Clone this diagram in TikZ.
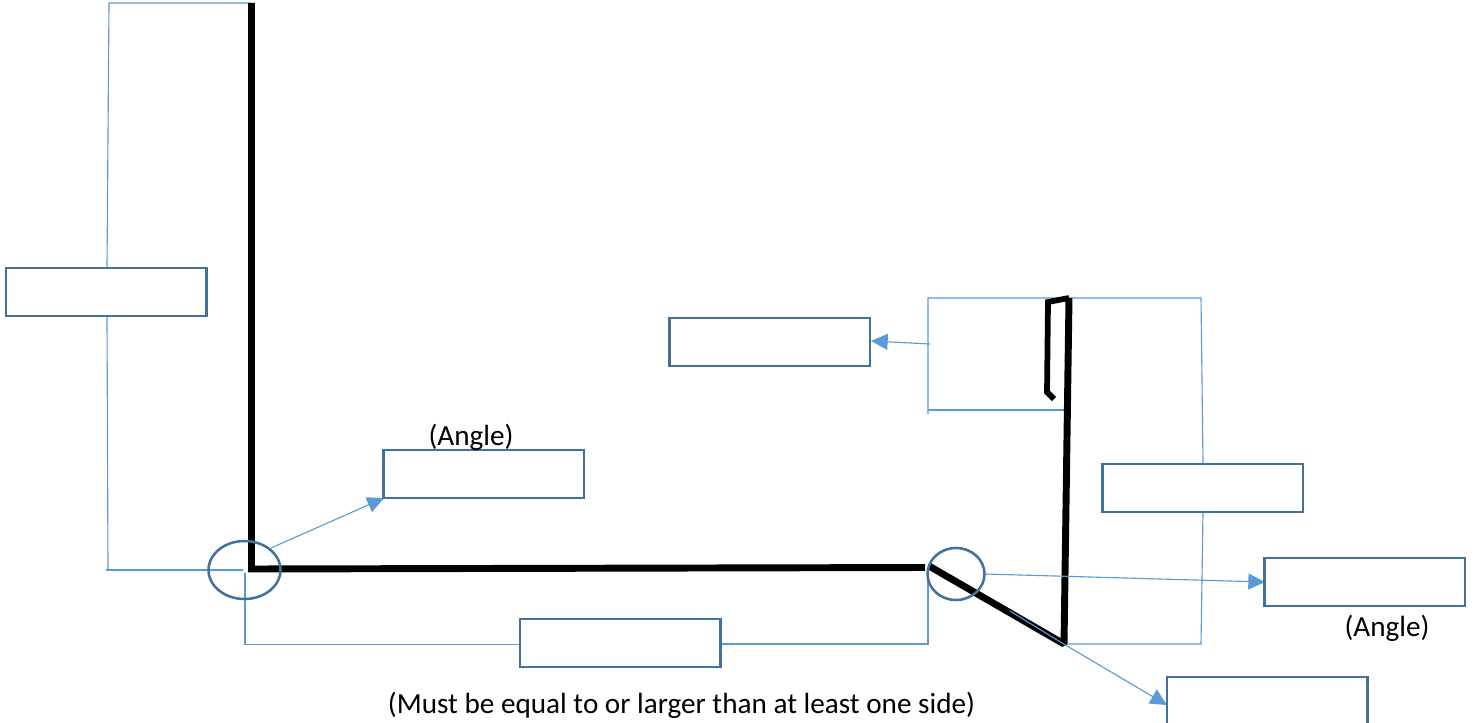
\documentclass[tikz,border=0pt]{standalone}
\usepackage{fontspec}
\setmainfont{Carlito}
\usetikzlibrary{arrows.meta}
\definecolor{boxblue}{HTML}{41719C}
\definecolor{thinblue}{HTML}{5B9BD5}
\tikzset{
  px/.style={x=0.75pt,y=-0.75pt},
  emptybox/.style={draw=boxblue,line width=1.9pt,fill=white,minimum width=150.5pt,minimum height=36pt,inner sep=0pt,outer sep=0pt,anchor=north west},
  thin line/.style={draw=thinblue,line width=0.85pt},
  pointer/.style={draw=thinblue,line width=0.85pt,-{Triangle[length=12.5pt,width=12pt,fill=thinblue]}},
  profile/.style={draw=black,line width=5.2pt,line join=miter},
  hook/.style={draw=black,line width=4.3pt,line join=miter},
  label/.style={font=\fontsize{21.9pt}{26pt}\selectfont,text=black,inner sep=0pt}
}
\begin{document}
\begin{tikzpicture}[px]
\useasboundingbox (0,0) rectangle (1476,723);
\fill[white] (0,0) rectangle (1476,723);

% free ends of the connectors
\coordinate (lt1) at (250,3);
\coordinate (lt2) at (109,3);
\coordinate (lv1) at (107,268);
\coordinate (lv2) at (107,316);
\coordinate (lb0) at (108,570);
\coordinate (lb1) at (106,570);
\coordinate (lb2) at (243,570);
\coordinate (bl1) at (245,573);
\coordinate (bl2) at (245,644.5);
\coordinate (bl3) at (520,644.5);
\coordinate (br1) at (721,644);
\coordinate (br2) at (928,644);
\coordinate (br3) at (928,568);
\coordinate (rt1) at (928,298);
\coordinate (rt2) at (1201,298);
\coordinate (rt3) at (1203,464);
\coordinate (rb1) at (1203,512);
\coordinate (rb2) at (1201,644);
\coordinate (rb3) at (1064,644);
\coordinate (rl1) at (928,414);
\coordinate (rl2) at (928,410);
\coordinate (rl3) at (1064,410);
\coordinate (a1s) at (930,344);
\coordinate (a1e) at (871,341);
\coordinate (a2s) at (271,548);
\coordinate (a2e) at (384,498);
\coordinate (a3s) at (985,574);
\coordinate (a3e) at (1265,582);
\coordinate (a4s) at (1010,611);
\coordinate (a4m) at (1062,643);
\coordinate (a4e) at (1167,705);
\coordinate (p1) at (251.5,3);
\coordinate (p2) at (251.5,569);
\coordinate (p3) at (925,567.5);
\coordinate (q1) at (929,566);
\coordinate (q2) at (1064,644);
\coordinate (q3) at (1069,298);
\coordinate (q4) at (1048,302);
\coordinate (q5) at (1047,392);
\coordinate (q6) at (1054,399);

% thin dimension lines
\draw[thin line] (lt1) -- (lt2) -- (lv1);
\draw[thin line] (lv2) -- (lb0);
\draw[thin line] (lb1) -- (lb2);
\draw[thin line] (bl1) -- (bl2) -- (bl3);
\draw[thin line] (br1) -- (br2) -- (br3);
\draw[thin line] (rl1) -- (rt1) -- (rt2) -- (rt3);
\draw[thin line] (rb1) -- (rb2) -- (rb3);
\draw[thin line] (rl2) -- (rl3);

% heavy profile
\draw[profile] (p1) -- (p2) -- (p3);
\draw[profile,line join=bevel] (q1) -- (q2) -- (q3);
\draw[hook] (q3) -- (q4) -- (q5) -- (q6);

% circled corners
\draw[boxblue,line width=1.9pt] (244.5,570) ellipse [x radius=36,y radius=29];
\draw[boxblue,line width=1.9pt] (956,574) ellipse [x radius=28.5,y radius=26];

% pointers
\draw[pointer] (a1s) -- (a1e);
\draw[pointer] (a2s) -- (a2e);
\draw[pointer] (a3s) -- (a3e);
\draw[thin line] (a4s) -- (a4m);
\draw[pointer] (a4m) -- (a4e);

% empty answer boxes
\node[emptybox] (b1) at (6,268) {};
\node[emptybox] (b2) at (383.5,450) {};
\node[emptybox] (b3) at (669.5,318) {};
\node[emptybox] (b4) at (1102.5,464) {};
\node[emptybox] (b5) at (1264.5,558) {};
\node[emptybox] (b6) at (520,619) {};
\node[emptybox] (b7) at (1167,677) {};

% labels
\node[label] (t1) at (471,437) {(Angle)};
\node[label] (t2) at (1387,628) {(Angle)};
\node[label] (t3) at (681.5,705) {(Must be equal to or larger than at least one side)};
\end{tikzpicture}
\end{document}
